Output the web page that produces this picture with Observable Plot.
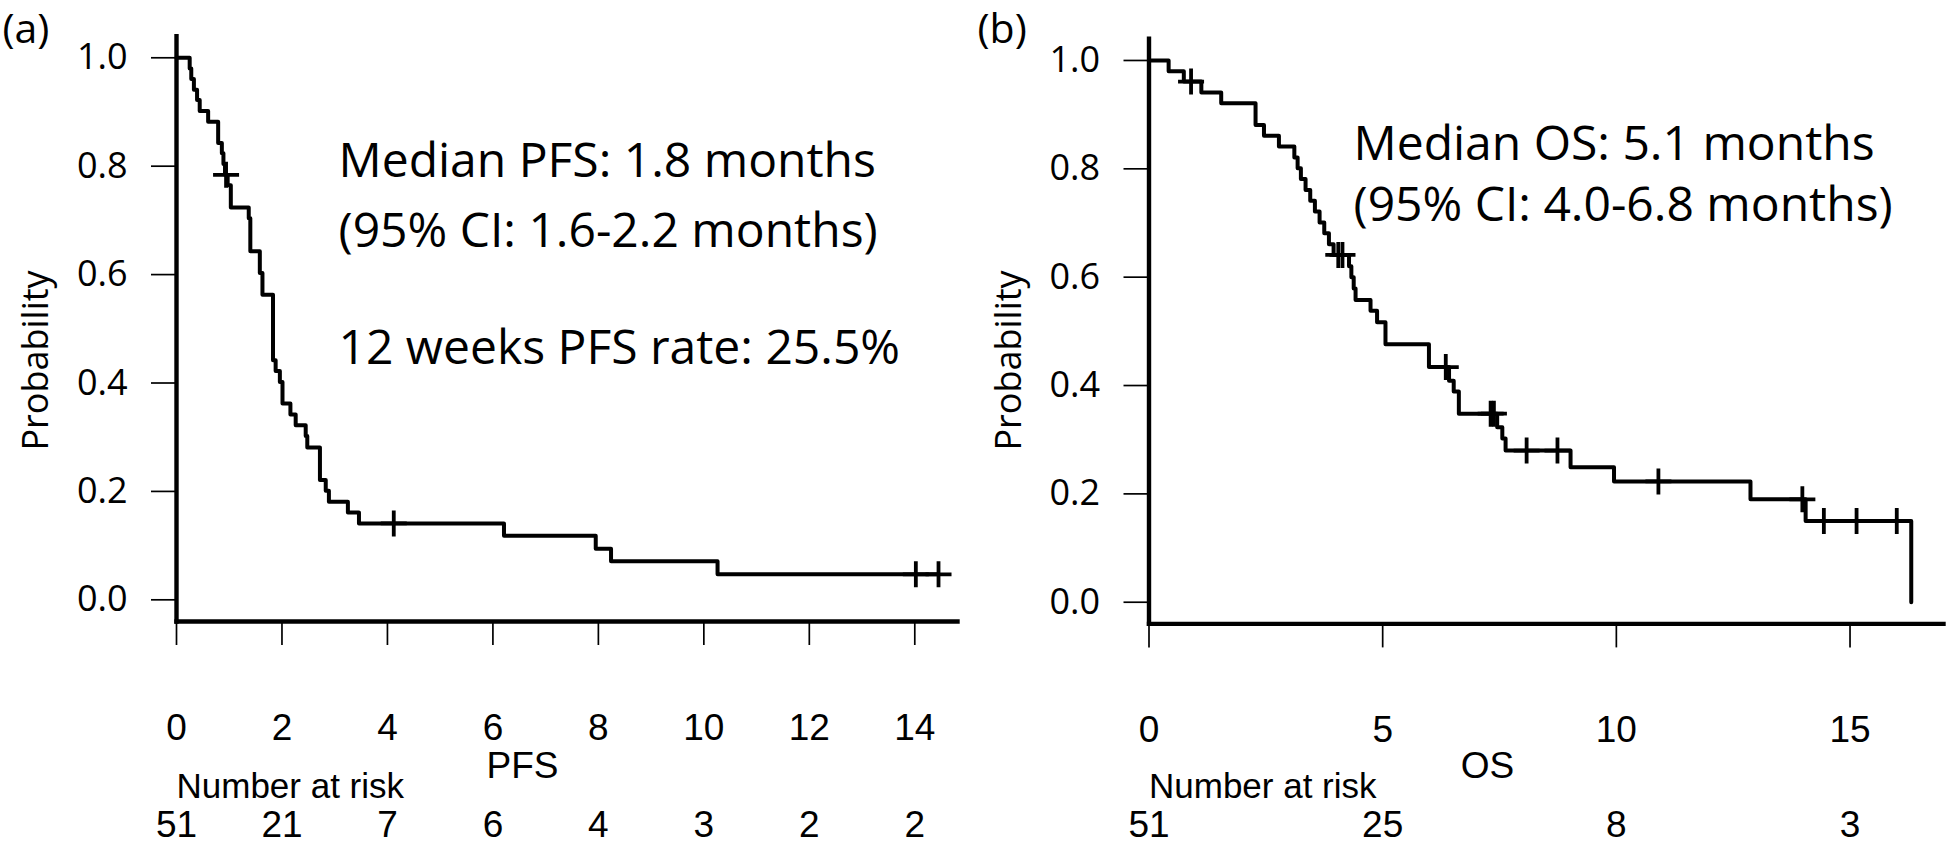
<!DOCTYPE html>
<html>
<head>
<meta charset="utf-8">
<script src="https://cdn.jsdelivr.net/npm/d3@7"></script>
<script src="https://cdn.jsdelivr.net/npm/@observablehq/plot@0.6"></script>
<style>
  html, body { margin: 0; padding: 0; background: #fff; }
  #wrap { display: flex; width: 1946px; height: 851px; }
  #wrap svg { overflow: visible; }
</style>
</head>
<body>
<div id="wrap"></div>
<script>
// ---------- Data ----------
// (a) PFS Kaplan-Meier steps: time (months) -> survival probability after the step
const pfsTime = [0, 0.25, 0.28, 0.33, 0.39, 0.44, 0.60, 0.79, 0.86, 0.89, 0.92, 0.97, 1.03, 1.37, 1.40, 1.58, 1.63, 1.83, 1.88, 1.96, 2.01, 2.16, 2.26, 2.45, 2.48, 2.72, 2.83, 2.89, 3.25, 3.46, 6.21, 7.95, 8.24, 10.26, 14.45];
const pfsSurv = [1.0, 0.980, 0.961, 0.941, 0.922, 0.902, 0.882, 0.843, 0.824, 0.804, 0.784, 0.765, 0.724, 0.704, 0.643, 0.603, 0.563, 0.442, 0.422, 0.402, 0.362, 0.342, 0.322, 0.302, 0.281, 0.221, 0.201, 0.181, 0.161, 0.141, 0.118, 0.094, 0.071, 0.047, 0.047];
const pfsCensorTime = [0.94, 4.12, 14.02, 14.45];
const pfsCensorSurv = [0.784, 0.141, 0.047, 0.047];
const pfsTicks = [0, 2, 4, 6, 8, 10, 12, 14];
const pfsAtRisk = [51, 21, 7, 6, 4, 3, 2, 2];

// (b) OS Kaplan-Meier steps
const osTime = [0, 0.42, 0.745, 1.12, 1.545, 2.28, 2.46, 2.78, 3.11, 3.18, 3.25, 3.35, 3.45, 3.55, 3.65, 3.75, 3.85, 3.95, 4.28, 4.33, 4.38, 4.42, 4.74, 4.88, 5.06, 5.99, 6.42, 6.52, 6.63, 7.45, 7.56, 7.63, 9.02, 9.95, 12.87, 14.05, 16.31];
const osSurv = [1.0, 0.980, 0.961, 0.941, 0.921, 0.881, 0.861, 0.841, 0.821, 0.801, 0.781, 0.761, 0.741, 0.721, 0.701, 0.681, 0.661, 0.641, 0.620, 0.600, 0.579, 0.558, 0.538, 0.517, 0.476, 0.434, 0.409, 0.389, 0.348, 0.323, 0.302, 0.280, 0.249, 0.223, 0.190, 0.150, 0.0];
const osCensorTime = [0.90, 4.05, 4.14, 6.35, 7.31, 7.38, 8.08, 8.74, 10.90, 13.98, 14.44, 15.14, 16.0];
const osCensorSurv = [0.961, 0.641, 0.641, 0.434, 0.348, 0.348, 0.280, 0.280, 0.223, 0.190, 0.150, 0.150, 0.150];
const osTicks = [0, 5, 10, 15];
const osAtRisk = [51, 25, 8, 3];

const yTicks = [0, 0.2, 0.4, 0.6, 0.8, 1.0];

const panelA = {
  tag: "(a)", xlabel: "PFS", xmax: 14.81,
  notes: ["Median PFS: 1.8 months", "(95% CI: 1.6-2.2 months)", "12 weeks PFS rate: 25.5%"],
  time: pfsTime, surv: pfsSurv, ct: pfsCensorTime, cs: pfsCensorSurv, ticks: pfsTicks, risk: pfsAtRisk
};
const panelB = {
  tag: "(b)", xlabel: "OS", xmax: 17.0,
  notes: ["Median OS: 5.1 months", "(95% CI: 4.0-6.8 months)"],
  time: osTime, surv: osSurv, ct: osCensorTime, cs: osCensorSurv, ticks: osTicks, risk: osAtRisk
};

// ---------- Drawing ----------
const plusSymbol = {
  draw(ctx, size) {
    const r = Math.sqrt(size / Math.PI);
    ctx.moveTo(-r, 0); ctx.lineTo(r, 0);
    ctx.moveTo(0, -r); ctx.lineTo(0, r);
  }
};

const SANS = "'Open Sans', 'Noto Sans', sans-serif";
const ARIAL = "'Liberation Sans', Arial, sans-serif";

function build(p, layout) {
  const curve = p.time.map((t, i) => ({t, s: p.surv[i]}));
  const cens = p.ct.map((t, i) => ({t, s: p.cs[i]}));
  const risk = p.ticks.map((t, i) => ({t, n: p.risk[i]}));
  const {mt, mb, ml, mr} = layout;
  const frameTop = mt, frameBottom = 851 - mb, frameMid = (frameTop + frameBottom) / 2;
  const noteMarks = p.notes.map((txt, i) => Plot.text([txt], {
    frameAnchor: "top-left", text: d => d, textAnchor: "start", lineAnchor: "middle",
    dx: layout.noteX - ml, dy: layout.noteY[i] - frameTop, fontSize: 48, fontFamily: SANS
  }));
  return Plot.plot({
    width: 973, height: 851,
    marginLeft: ml, marginRight: mr, marginTop: mt, marginBottom: mb,
    x: {domain: [0, p.xmax]},
    y: {domain: [-0.04, 1.04]},
    style: {fontFamily: SANS, background: "white", color: "black", overflow: "visible"},
    marks: [
      Plot.axisY({ticks: yTicks, tickSize: 25, tickPadding: 24, tickFormat: d3.format(".1f"),
        fontSize: 36, fontFamily: SANS, label: null, strokeWidth: 1.7}),
      Plot.axisX({ticks: p.ticks, tickSize: 24, tickPadding: 68, tickFormat: d => String(d),
        fontSize: 37, fontFamily: ARIAL, label: null, strokeWidth: 1.7}),
      Plot.frame({anchor: "left", strokeWidth: 4.4}),
      Plot.frame({anchor: "bottom", strokeWidth: 4.4}),
      Plot.line(curve, {x: "t", y: "s", curve: "step-after", stroke: "black", strokeWidth: 4}),
      Plot.dot(cens, {x: "t", y: "s", symbol: plusSymbol, r: 13, fill: "none", stroke: "black", strokeWidth: 3.8}),
      Plot.text([p.tag], {frameAnchor: "top-left", text: d => d, textAnchor: "start", lineAnchor: "top",
        dx: layout.tagX - ml, dy: 13 - frameTop, fontSize: 41, fontFamily: SANS}),
      Plot.text(["Probability"], {frameAnchor: "left", text: d => d, rotate: -90, textAnchor: "middle", lineAnchor: "middle",
        dx: 36 - ml, dy: 360 - frameMid, fontSize: 36, fontFamily: SANS}),
      ...noteMarks,
      Plot.text([p.xlabel], {frameAnchor: "bottom-left", text: d => d, textAnchor: "middle", lineAnchor: "middle",
        dx: layout.xlabelX - ml, dy: 766 - frameBottom, fontSize: 37, fontFamily: ARIAL}),
      Plot.text(["Number at risk"], {frameAnchor: "bottom-left", text: d => d, textAnchor: "start", lineAnchor: "middle",
        dx: 0, dy: 786 - frameBottom, fontSize: 35, fontFamily: ARIAL}),
      Plot.text(risk, {x: "t", text: d => String(d.n), frameAnchor: "bottom", textAnchor: "middle", lineAnchor: "middle",
        dy: 825 - frameBottom, fontSize: 37, fontFamily: ARIAL})
    ]
  });
}

const wrap = document.getElementById("wrap");
wrap.appendChild(build(panelA, {mt: 35.6, mb: 230, ml: 176, mr: 16, tagX: 2, xlabelX: 522,
  noteX: 338, noteY: [161, 231, 348]}));
wrap.appendChild(build(panelB, {mt: 38.3, mb: 227.6, ml: 175.5, mr: 3, tagX: 4, xlabelX: 1487 - 973,
  noteX: 1353 - 973, noteY: [144, 205]}));
</script>
</body>
</html>
